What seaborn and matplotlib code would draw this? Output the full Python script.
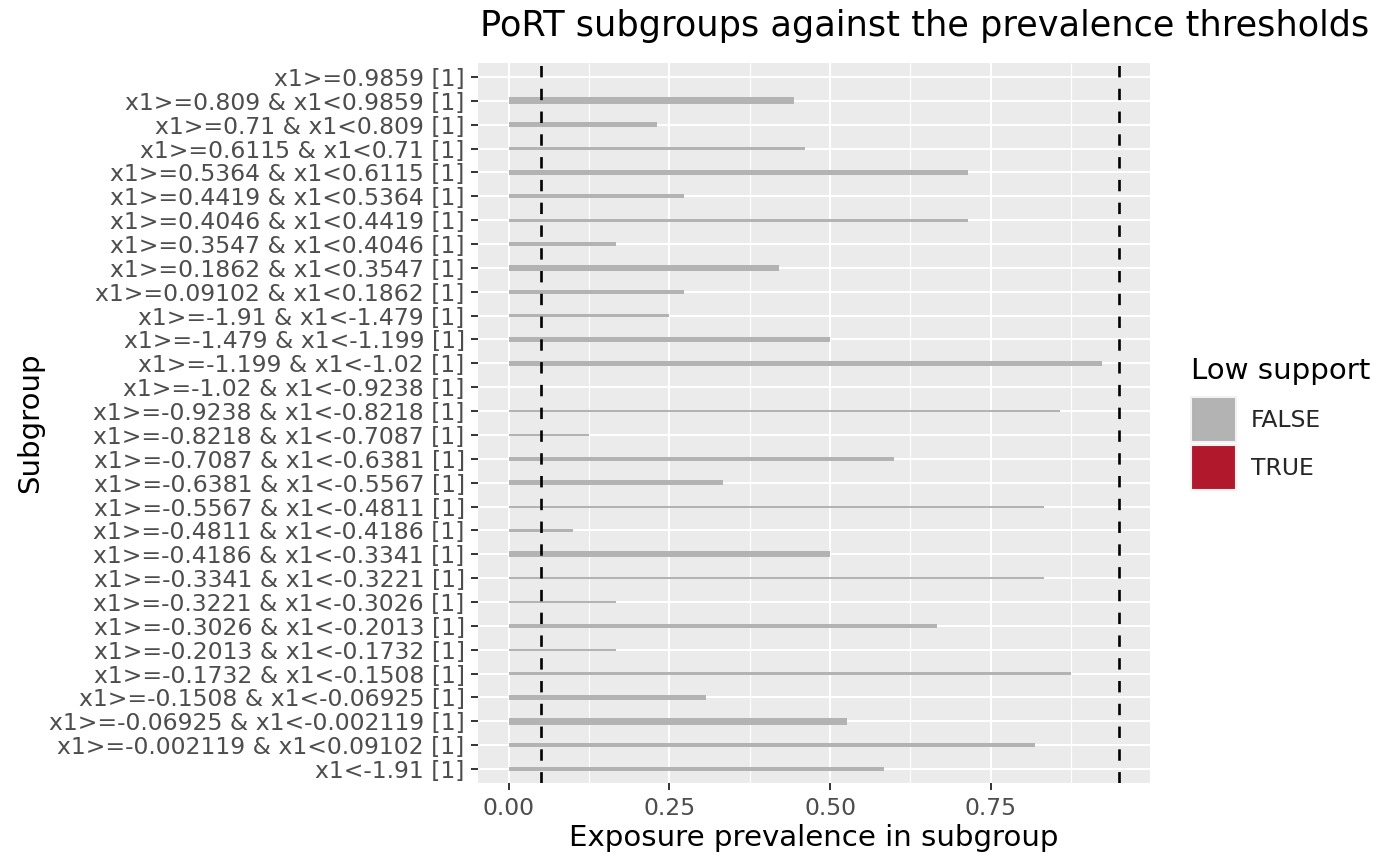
import numpy as np
import pandas as pd
import matplotlib
matplotlib.use("Agg")
import matplotlib.pyplot as plt
from matplotlib.patches import Patch
from matplotlib.ticker import FixedLocator
import seaborn as sns

# ---------------- data ----------------
subgroups = [
    "x1>=0.9859 [1]",
    "x1>=0.809 & x1<0.9859 [1]",
    "x1>=0.71 & x1<0.809 [1]",
    "x1>=0.6115 & x1<0.71 [1]",
    "x1>=0.5364 & x1<0.6115 [1]",
    "x1>=0.4419 & x1<0.5364 [1]",
    "x1>=0.4046 & x1<0.4419 [1]",
    "x1>=0.3547 & x1<0.4046 [1]",
    "x1>=0.1862 & x1<0.3547 [1]",
    "x1>=0.09102 & x1<0.1862 [1]",
    "x1>=-1.91 & x1<-1.479 [1]",
    "x1>=-1.479 & x1<-1.199 [1]",
    "x1>=-1.199 & x1<-1.02 [1]",
    "x1>=-1.02 & x1<-0.9238 [1]",
    "x1>=-0.9238 & x1<-0.8218 [1]",
    "x1>=-0.8218 & x1<-0.7087 [1]",
    "x1>=-0.7087 & x1<-0.6381 [1]",
    "x1>=-0.6381 & x1<-0.5567 [1]",
    "x1>=-0.5567 & x1<-0.4811 [1]",
    "x1>=-0.4811 & x1<-0.4186 [1]",
    "x1>=-0.4186 & x1<-0.3341 [1]",
    "x1>=-0.3341 & x1<-0.3221 [1]",
    "x1>=-0.3221 & x1<-0.3026 [1]",
    "x1>=-0.3026 & x1<-0.2013 [1]",
    "x1>=-0.2013 & x1<-0.1732 [1]",
    "x1>=-0.1732 & x1<-0.1508 [1]",
    "x1>=-0.1508 & x1<-0.06925 [1]",
    "x1>=-0.06925 & x1<-0.002119 [1]",
    "x1>=-0.002119 & x1<0.09102 [1]",
    "x1<-1.91 [1]",
]
prevalence = [
    0.0, 0.444, 0.231, 0.4615, 0.714, 0.2727, 0.714, 0.1667, 0.421, 0.2727,
    0.25, 0.5, 0.923, 0.0, 0.857, 0.125, 0.6, 0.3333, 0.8333, 0.1,
    0.5, 0.8333, 0.1667, 0.6667, 0.1667, 0.875, 0.3077, 0.526, 0.818, 0.5833,
]
subgroup_n = [
    9, 21, 15, 11, 14, 11, 9, 14, 20, 11,
    11, 17, 14, 9, 8, 8, 12, 17, 6, 8,
    18, 5, 6, 12, 7, 8, 14, 21, 12, 13,
]
low_support = ["FALSE"] * len(subgroups)
thresholds = [0.05, 0.95]
x_ticks = [0.0, 0.25, 0.5, 0.75]
x_tick_labels = ["0.00", "0.25", "0.50", "0.75"]
x_minor = [0.125, 0.375, 0.625, 0.875]
support_levels = ["FALSE", "TRUE"]
support_colors = {"FALSE": "#B3B3B3", "TRUE": "#B2182B"}

df = pd.DataFrame({
    "subgroup": subgroups,
    "prevalence": prevalence,
    "n": subgroup_n,
    "low_support": low_support,
})

# ---------------- style ----------------
sns.set_theme(style="darkgrid")
plt.rcParams["font.family"] = ["DejaVu Sans"]
plt.rcParams["lines.scale_dashes"] = False

W, H = 1400, 866
fig = plt.figure(figsize=(W / 100, H / 100), dpi=100, facecolor="white")
pl, pr, pt, pb = 478, 1150, 62.7, 783.3
ax = fig.add_axes([pl / W, 1 - pb / H, (pr - pl) / W, (pb - pt) / H])
ax.set_facecolor("#EBEBEB")

sns.barplot(
    data=df, x="prevalence", y="subgroup", hue="low_support",
    hue_order=support_levels, palette=support_colors, order=subgroups,
    orient="h", dodge=False, saturation=1, legend=False, width=0.8,
    errorbar=None, ax=ax,
)

nrows = len(subgroups)
ax.set_ylim(nrows - 1 + 0.6, -0.6)
ax.set_xlim(-0.0475, 0.9975)

# bar thickness from subgroup size (px = n/3)
px_per_unit = (pb - pt) / (nrows - 1 + 1.2)
for p in ax.patches:
    cy = p.get_y() + p.get_height() / 2
    idx = int(round(cy))
    if 0 <= idx < nrows:
        th = subgroup_n[idx] / 3.0 / px_per_unit
        p.set_height(th)
        p.set_y(idx - th / 2)
        p.set_edgecolor("none")
        p.set_linewidth(0)

for t in thresholds:
    ax.axvline(t, color="black", lw=1.9, linestyle=(0, (8.2, 8.2)), zorder=3)

# grid
ax.set_axisbelow(True)
ax.xaxis.set_major_locator(FixedLocator(x_ticks))
ax.set_xticklabels(x_tick_labels)
ax.xaxis.set_minor_locator(FixedLocator(x_minor))
ax.grid(False)
ax.grid(True, which="major", axis="both", color="white", lw=1.5)
ax.grid(True, which="minor", axis="x", color="white", lw=0.8)
for s in ax.spines.values():
    s.set_visible(False)

ax.tick_params(axis="both", which="major", length=5.1, width=1.4, color="#333333",
               labelcolor="#4D4D4D", labelsize=16.9, pad=4.5)
ax.tick_params(axis="x", which="minor", length=0)
ax.tick_params(axis="y", which="minor", length=0)
ax.tick_params(axis="both", which="both", bottom=True, left=True, top=False, right=False)

ax.set_xlabel("Exposure prevalence in subgroup", fontsize=21.1, color="black")
ax.set_ylabel("Subgroup", fontsize=21.1, color="black")
ax.xaxis.set_label_coords(0.5, -0.057)
ax.yaxis.set_label_coords((44 - pl) / (pr - pl), 0.5)

ax.set_title("PoRT subgroups against the prevalence thresholds", loc="left",
             fontsize=25.3, color="black", pad=19, x=0.003)

# legend
fig.text(1191 / W, 1 - 371 / H, "Low support", fontsize=21.1, color="black",
         ha="left", va="center")
handles = [Patch(facecolor=support_colors[k], edgecolor="#F2F2F2", linewidth=1.5, label=k)
           for k in support_levels]
leg = fig.legend(handles=handles, loc="upper left",
                 bbox_to_anchor=(1191 / W, 1 - 397 / H), frameon=False,
                 fontsize=16.9, handlelength=1.9, handleheight=2.6,
                 handletextpad=0.64, labelspacing=0.1,
                 borderpad=0, borderaxespad=0)

fig.savefig("out.png", dpi=100, facecolor="white")
